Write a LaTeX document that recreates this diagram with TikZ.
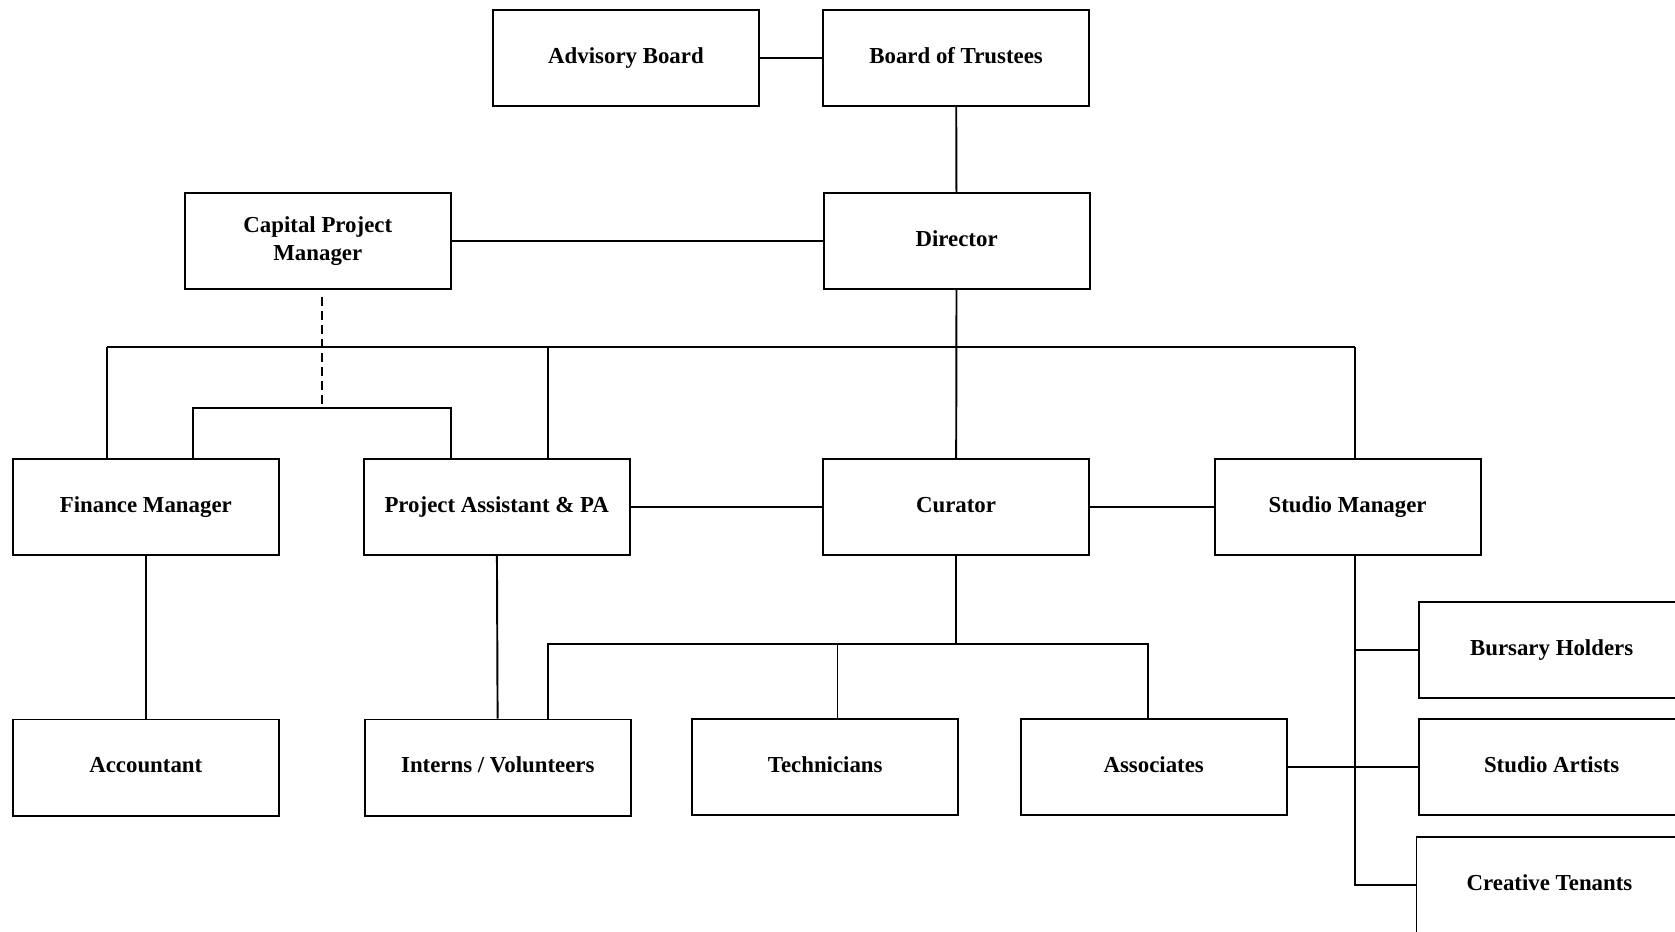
\documentclass[tikz,border=0pt]{standalone}
\usepackage{fontspec}
\setmainfont{Liberation Serif}
\usetikzlibrary{positioning}

\begin{document}
\begin{tikzpicture}[x=0.021364cm,y=-0.021364cm,line width=1.1pt,
  unitbox/.style={draw,minimum width=5.32cm,minimum height=1.92cm,inner sep=2pt,align=center},
  unit/.style={unitbox,text height=9pt,text depth=3pt},
  every node/.append style={font=\fontsize{13}{16}\selectfont\bfseries}]
  \clip (0,0) rectangle (1568,872);

  % top
  \node[unit] (adv) at (586,54.5) {Advisory Board};
  \node[unit] (bot) at (895,54.5) {Board of Trustees};
  \node[unitbox] (cpm) at (297.5,225.5) {Capital Project\\Manager};
  \node[unit] (dir) at (895.5,225.5) {Director};

  % managers
  \node[unit] (fin) at (136.5,474.5) {Finance Manager};
  \node[unit] (pa) at (465,474.5) {Project Assistant \& PA};
  \node[unit] (cur) at (895,474.5) {Curator};
  \node[unit] (sm) at (1261.5,474.5) {Studio Manager};

  % staff
  \node[unit] (acc) at (136.5,718.5) {Accountant};
  \node[unit] (int) at (466,718.5) {Interns / Volunteers};
  \node[unit] (tec) at (772.5,718) {Technicians};
  \node[unit] (asc) at (1080,718) {Associates};
  \node[unit] (bh) at (1452.5,608.5) {Bursary Holders};
  \node[unit] (sa) at (1452.5,718) {Studio Artists};
  \node[unit] (ct) at (1450.5,828.5) {Creative Tenants};

  % junctions
  \coordinate (finj) at (100,325);
  \coordinate (paj) at (513,325);
  \coordinate (smj) at (1268,325);
  \coordinate (cpmj) at (301,382);
  \coordinate (sbl) at (181,382);
  \coordinate (sbr) at (422,382);
  \coordinate (cbl) at (513,603);
  \coordinate (cbm) at (784,603);
  \coordinate (cbr) at (1075,603);

  \draw (adv) -- (bot);
  \draw (bot) -- (dir);
  \draw (cpm) -- (dir);
  \draw (dir) -- (cur);
  \draw (finj) -- (smj);
  \draw (finj) -- (finj |- fin.north);
  \draw (paj) -- (paj |- pa.north);
  \draw (smj) -- (smj |- sm.north);
  \draw[dash pattern=on 5pt off 3pt] ([yshift=-4pt]cpmj |- cpm.south) -- (cpmj);
  \draw (sbl |- fin.north) -- (sbl) -- (sbr) -- (sbr |- pa.north);
  \draw (pa) -- (cur);
  \draw (cur) -- (sm);
  \draw (fin) -- (acc);
  \draw (pa) -- (int);
  \draw (cur.south) -- (cur.south |- cbl);
  \draw (cbl |- int.north) -- (cbl) -- (cbr) -- (cbr |- asc.north);
  \draw (cbm) -- (cbm |- tec.north);
  \draw (smj |- sm.south) -- (smj |- ct.west) -- (ct.west);
  \draw (smj |- bh.west) -- (bh.west);
  \draw (asc) -- (sa);
\end{tikzpicture}
\end{document}
